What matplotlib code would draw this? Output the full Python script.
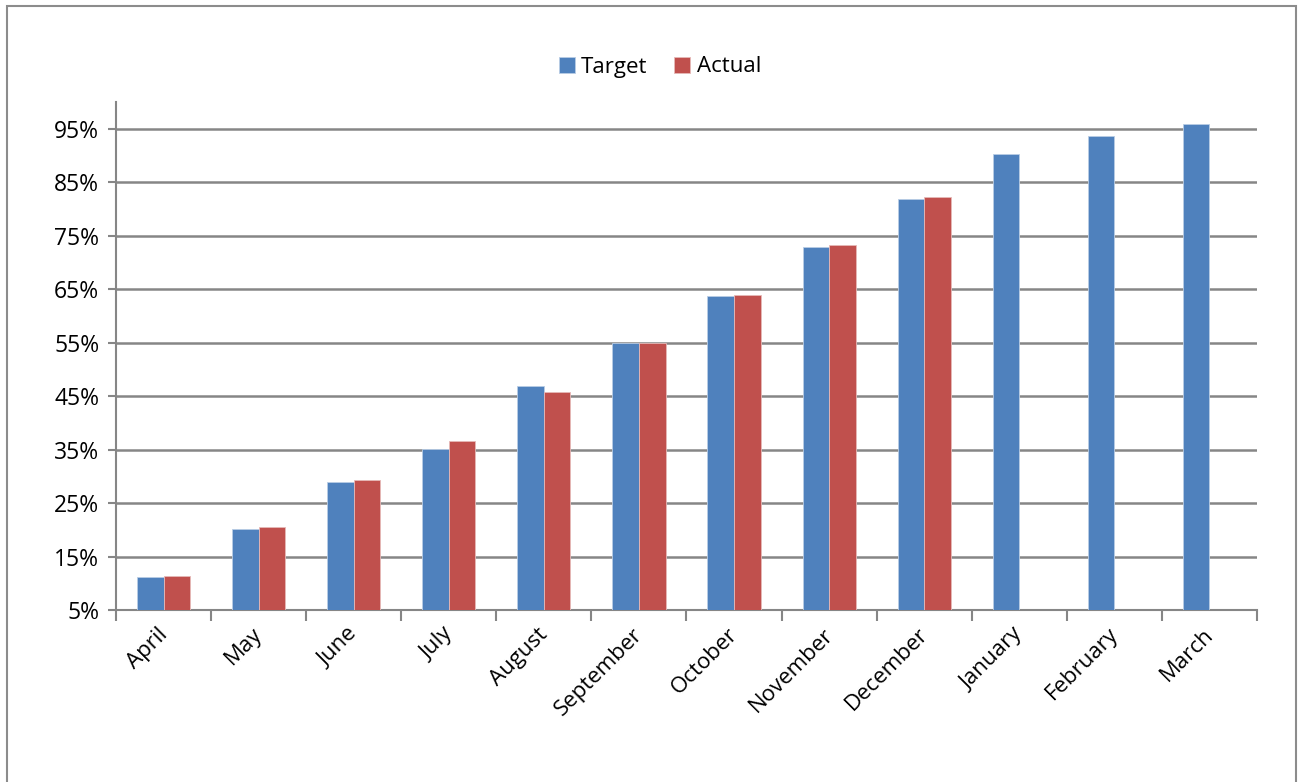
import matplotlib
matplotlib.use("Agg")
import matplotlib.pyplot as plt
from matplotlib.patches import Rectangle
from matplotlib.ticker import FixedLocator, FuncFormatter
import numpy as np

months = ["April", "May", "June", "July", "August", "September", "October",
          "November", "December", "January", "February", "March"]
target = [11.2, 20.2, 29.0, 35.2, 46.9, 55.0, 63.8, 72.9, 81.9, 90.2, 93.7, 95.9]
actual = [11.4, 20.5, 29.3, 36.6, 45.8, 55.0, 64.0, 73.2, 82.2, None, None, None]
y_ticks = [5, 15, 25, 35, 45, 55, 65, 75, 85, 95]

BLUE = "#4F81BD"
RED = "#C0504D"
GRID = "#868686"

plt.rcParams["font.family"] = ["Open Sans", "DejaVu Sans"]

fig = plt.figure(figsize=(13.02, 7.82), dpi=100)
ax = fig.add_axes([116 / 1302, 1 - 610 / 782, (1257 - 116) / 1302, (610 - 102) / 782])

x = np.arange(len(months))
w = 0.28
ax.bar(x - w / 2, target, width=w, color=BLUE, edgecolor="#B9CDE5", linewidth=0.6,
       label="Target", zorder=3)
ax_x = [xi + w / 2 for xi, v in zip(x, actual) if v is not None]
ax_v = [v for v in actual if v is not None]
ax.bar(ax_x, ax_v, width=w, color=RED, edgecolor="#E6B9B8", linewidth=0.6,
       label="Actual", zorder=3)

ax.set_xlim(-0.5, len(months) - 0.5)
ax.set_ylim(5, 100)

ax.yaxis.set_major_locator(FixedLocator(y_ticks))
ax.yaxis.set_major_formatter(FuncFormatter(lambda v, p: f"{v:.0f}%"))
ax.grid(axis="y", color=GRID, linewidth=1.8, zorder=0)
ax.set_axisbelow(True)

# category boundary ticks on x; rotated labels hang just left of each centre
ax.xaxis.set_major_locator(FixedLocator(np.arange(-0.5, len(months), 1.0)))
ax.xaxis.set_major_formatter(FuncFormatter(lambda v, p: ""))
ax.set_xticks(x - 0.07, minor=True)
ax.set_xticklabels(months, minor=True, rotation=45, ha="right",
                   rotation_mode="anchor", fontsize=16)
ax.tick_params(axis="x", which="minor", length=0, pad=10)
ax.tick_params(axis="x", which="major", length=8, width=1.5, color=GRID, direction="out")
ax.tick_params(axis="y", length=6, width=1.5, color=GRID, direction="out",
               labelsize=16.5, pad=6)

for s in ["top", "right"]:
    ax.spines[s].set_visible(False)
for s in ["left", "bottom"]:
    ax.spines[s].set_color(GRID)
    ax.spines[s].set_linewidth(1.5)

leg = fig.legend(loc="center", bbox_to_anchor=(660 / 1302, 1 - 67 / 782), ncol=2,
                 frameon=False, fontsize=16, handlelength=0.7, handleheight=0.7,
                 handletextpad=0.3, columnspacing=1.2)

# chart area frame
fig.add_artist(Rectangle((7 / 1302, -0.05), (1296 - 7) / 1302, 1.05 - 6 / 782,
                         transform=fig.transFigure, fill=False,
                         edgecolor="#8C8C8C", linewidth=1.5))

fig.savefig("out.png", dpi=100)
